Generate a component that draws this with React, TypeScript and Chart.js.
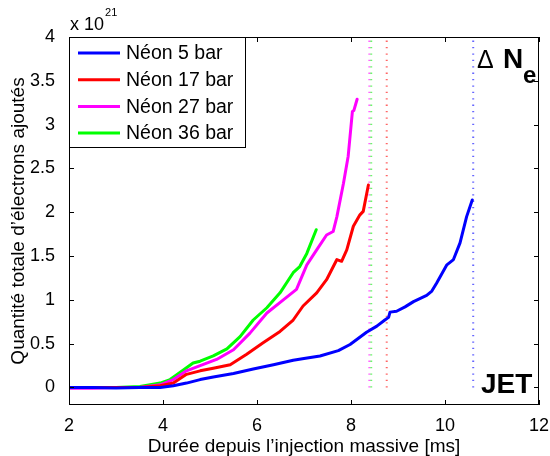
import React, { useEffect, useRef } from "react";
import { Chart, registerables } from "chart.js";

Chart.register(...registerables);

const FONT = '"Liberation Sans", Arial, Helvetica, sans-serif';

// ---- data (electrons added, in units of 1e21) ----
const seriesLabels = ["Néon 5 bar", "Néon 17 bar", "Néon 27 bar", "Néon 36 bar"];
const seriesColors = ["#0000ff", "#ff0000", "#ff00ff", "#00ff00"];

const blueX = [2.0, 2.5, 3.0, 3.5, 3.94, 4.22, 4.5, 4.79, 5.07, 5.5, 5.92, 6.35, 6.77, 7.0, 7.34, 7.73, 7.98, 8.33, 8.55, 8.72, 8.8, 8.83, 8.97, 9.15, 9.33, 9.61, 9.72, 9.82, 10.04, 10.18, 10.32, 10.46, 10.58];
const blueY = [0.0, 0.0, -0.005, 0.0, 0.0, 0.02, 0.05, 0.09, 0.12, 0.16, 0.21, 0.26, 0.31, 0.33, 0.36, 0.42, 0.49, 0.63, 0.7, 0.77, 0.8, 0.86, 0.87, 0.92, 0.98, 1.05, 1.1, 1.19, 1.4, 1.46, 1.65, 1.95, 2.14];

const redX = [2.0, 2.5, 3.0, 3.5, 3.94, 4.22, 4.5, 4.79, 5.07, 5.43, 5.78, 6.13, 6.49, 6.77, 6.98, 7.27, 7.48, 7.7, 7.8, 7.91, 8.05, 8.19, 8.26, 8.37];
const redY = [0.0, 0.0, 0.0, 0.0, 0.02, 0.05, 0.15, 0.19, 0.22, 0.26, 0.38, 0.51, 0.64, 0.77, 0.93, 1.08, 1.23, 1.46, 1.44, 1.57, 1.84, 1.97, 2.01, 2.31];

const magentaX = [2.0, 2.5, 3.0, 3.5, 3.94, 4.22, 4.5, 4.79, 5.14, 5.5, 5.85, 6.21, 6.56, 6.84, 7.06, 7.27, 7.48, 7.62, 7.7, 7.84, 7.94, 8.03, 8.06, 8.13];
const magentaY = [-0.01, -0.01, 0.0, 0.0, 0.03, 0.09, 0.19, 0.25, 0.32, 0.43, 0.62, 0.85, 1.0, 1.12, 1.4, 1.57, 1.74, 1.78, 1.95, 2.33, 2.64, 3.15, 3.16, 3.29];

const greenX = [2.0, 2.5, 3.0, 3.51, 3.94, 4.15, 4.36, 4.64, 4.79, 5.07, 5.36, 5.64, 5.92, 6.21, 6.49, 6.77, 6.91, 7.06, 7.26];
const greenY = [0.0, 0.0, 0.0, 0.01, 0.05, 0.09, 0.17, 0.28, 0.3, 0.36, 0.44, 0.58, 0.77, 0.91, 1.08, 1.31, 1.38, 1.53, 1.8];

// vertical dotted markers (blue, red, magenta, green)
const markerX = [10.6, 8.76, 8.39, 8.43];
const markerColors = ["rgba(0,0,255,0.6)", "rgba(255,0,0,0.6)", "rgba(255,0,255,0.6)", "rgba(0,255,0,0.6)"];
const markerYRange = [0, 4];

const xTicks = [2, 4, 6, 8, 10, 12];
const yTicks = [0, 0.5, 1, 1.5, 2, 2.5, 3, 3.5, 4];
const xRange = [2, 12];
const yRange = [-0.2, 4];

const xTitle = "Durée depuis l’injection massive [ms]";
const yTitle = "Quantité totale d’électrons ajoutés";
const exponentBase = "x 10";
const exponentPower = "21";
const topRightSymbol = "Δ";
const topRightMain = "N";
const topRightSub = "e";
const bottomRightTag = "JET";

const seriesX = [blueX, redX, magentaX, greenX];
const seriesY = [blueY, redY, magentaY, greenY];

const toPoints = (xs: number[], ys: number[]) => xs.map((x, i) => ({ x, y: ys[i] }));

const decorPlugin = {
  id: "decor",
  afterDatasetsDraw(chart: any) {
    const { ctx, chartArea, scales } = chart;
    const { left, right, top, bottom } = chartArea;
    const xs = scales.x;
    const ys = scales.y;
    ctx.save();

    // frame
    ctx.strokeStyle = "#000";
    ctx.lineWidth = 1;
    ctx.strokeRect(left + 0.5, top + 0.5, right - left - 1, bottom - top - 1);

    // inward ticks
    const tl = 5;
    ctx.beginPath();
    xTicks.forEach((v) => {
      const px = Math.round(xs.getPixelForValue(v)) + 0.5;
      ctx.moveTo(px, bottom);
      ctx.lineTo(px, bottom - tl);
      ctx.moveTo(px, top);
      ctx.lineTo(px, top + tl);
    });
    yTicks.forEach((v) => {
      const py = Math.round(ys.getPixelForValue(v)) + 0.5;
      ctx.moveTo(left, py);
      ctx.lineTo(left + tl, py);
      ctx.moveTo(right, py);
      ctx.lineTo(right - tl, py);
    });
    ctx.stroke();

    // legend
    const lw = 176;
    const lh = 110;
    ctx.fillStyle = "#fff";
    ctx.fillRect(left, top, lw, lh);
    ctx.strokeStyle = "#000";
    ctx.lineWidth = 1;
    ctx.strokeRect(left + 0.5, top + 0.5, lw, lh);
    ctx.font = `19.5px ${FONT}`;
    ctx.textBaseline = "middle";
    ctx.textAlign = "left";
    seriesLabels.forEach((lab, i) => {
      const cy = top + 16 + i * 26.7;
      ctx.strokeStyle = seriesColors[i];
      ctx.lineWidth = 3;
      ctx.beginPath();
      ctx.moveTo(left + 9, cy);
      ctx.lineTo(left + 51, cy);
      ctx.stroke();
      ctx.fillStyle = "#000";
      ctx.fillText(lab, left + 57, cy + 1);
    });

    // exponent
    ctx.fillStyle = "#000";
    ctx.textBaseline = "alphabetic";
    ctx.font = `18px ${FONT}`;
    ctx.fillText(exponentBase, left + 1, top - 7);
    const bw = ctx.measureText(exponentBase).width;
    ctx.font = `11px ${FONT}`;
    ctx.fillText(exponentPower, left + 1 + bw + 1, top - 21);

    // Delta N_e
    ctx.font = `25px ${FONT}`;
    ctx.fillText(topRightSymbol, 477, 68);
    ctx.font = `bold 28px ${FONT}`;
    ctx.fillText(topRightMain, 503, 68);
    ctx.font = `bold 24px ${FONT}`;
    ctx.fillText(topRightSub, 523, 83);

    // JET
    ctx.font = `bold 28px ${FONT}`;
    ctx.fillText(bottomRightTag, 481, 393);

    ctx.restore();
  },
};

export default function App() {
  const canvasRef = useRef<HTMLCanvasElement | null>(null);

  useEffect(() => {
    document.body.style.margin = "0";
    const canvas = canvasRef.current;
    if (!canvas) return;

    const curveSets = seriesLabels.map((label, i) => ({
      label,
      data: toPoints(seriesX[i], seriesY[i]),
      borderColor: seriesColors[i],
      backgroundColor: seriesColors[i],
      borderWidth: 3,
      pointRadius: 0,
      showLine: true,
      tension: 0,
      borderJoinStyle: "round" as const,
      borderCapStyle: "round" as const,
      order: 1,
    }));
    const markerSets = markerX.map((mx, i) => ({
      label: "marker" + i,
      data: [
        { x: mx, y: markerYRange[0] },
        { x: mx, y: markerYRange[1] },
      ],
      borderColor: markerColors[i],
      backgroundColor: markerColors[i],
      borderWidth: 2,
      borderDash: [1.3, 5.1],
      pointRadius: 0,
      showLine: true,
      order: 5,
    }));

    const chart = new Chart(canvas, {
      type: "scatter",
      data: { datasets: [...curveSets, ...markerSets] as any },
      options: {
        responsive: false,
        animation: false,
        devicePixelRatio: 1,
        layout: { padding: { top: 37, right: 11, left: 0, bottom: 0 } },
        plugins: {
          legend: { display: false },
          tooltip: { enabled: false },
        },
        scales: {
          x: {
            type: "linear",
            min: xRange[0],
            max: xRange[1],
            grid: { display: false },
            border: { display: false },
            afterBuildTicks: (s: any) => {
              s.ticks = xTicks.map((v) => ({ value: v }));
            },
            afterFit: (s: any) => {
              s.height = 51;
              s.paddingLeft = 0;
              s.paddingRight = 0;
            },
            ticks: {
              color: "#000",
              padding: 2,
              maxRotation: 0,
              autoSkip: false,
              font: { family: FONT, size: 18 },
              callback: (v: any) => String(v),
            },
            title: {
              display: true,
              text: xTitle,
              color: "#000",
              font: { family: FONT, size: 19 },
              padding: { top: 0, bottom: -2 },
            },
          },
          y: {
            type: "linear",
            min: yRange[0],
            max: yRange[1],
            grid: { display: false },
            border: { display: false },
            afterBuildTicks: (s: any) => {
              s.ticks = yTicks.map((v) => ({ value: v }));
            },
            afterFit: (s: any) => {
              s.width = 69;
              s.paddingTop = 0;
              s.paddingBottom = 0;
            },
            ticks: {
              color: "#000",
              padding: 6,
              autoSkip: false,
              font: { family: FONT, size: 18 },
              callback: (v: any) => String(v),
            },
            title: {
              display: true,
              text: yTitle,
              color: "#000",
              font: { family: FONT, size: 19 },
              padding: { top: 7, bottom: 0 },
            },
          },
        },
      },
      plugins: [decorPlugin],
    });

    return () => chart.destroy();
  }, []);

  return (
    <div style={{ width: 550, height: 456, background: "#fff" }}>
      <canvas ref={canvasRef} width={550} height={456} style={{ display: "block" }} />
    </div>
  );
}
